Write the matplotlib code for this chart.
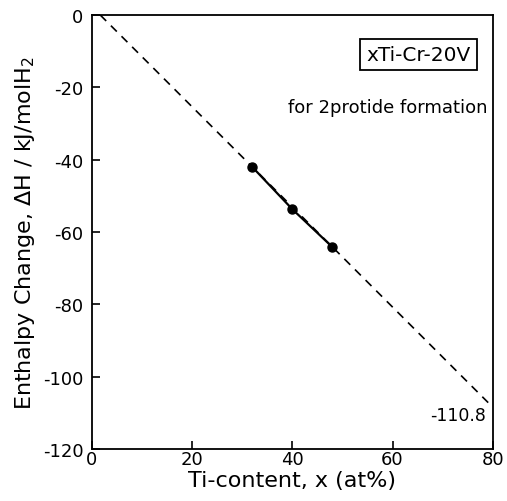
import numpy as np
from matplotlib import pyplot as plt

plt.rcParams['axes.unicode_minus'] = False

# data
ti_content = [32, 40, 48]
enthalpy = [-42, -53.7, -64.2]
# extrapolated trend line (dashed)
trend_x = [1.7, 80]
trend_y = [0, -108.5]
end_label = '-110.8'

fig = plt.figure(figsize=(5.07, 5.02), dpi=100)
ax = fig.add_axes([0.181, 0.104, 0.791, 0.864])

# dashed extrapolation
ax.plot(trend_x, trend_y, color='black', linestyle=(0, (5, 4)), linewidth=1.2)

# measured points
ax.plot(ti_content, enthalpy, color='black', linewidth=1.6,
        marker='o', markersize=6.5)

# annotations
ax.text(65.2, -11, 'xTi-Cr-20V', fontsize=14.5, ha='center', va='center',
        bbox=dict(boxstyle='square,pad=0.3', facecolor='white',
                  edgecolor='black', linewidth=1.3))
ax.text(79, -25.4, 'for 2protide formation', fontsize=13, ha='right', va='center')
ax.text(78.6, -110.6, end_label, fontsize=12.5, ha='right', va='center')

ax.set_xlim(0, 80)
ax.set_ylim(-120, 0)
ax.set_xticks([0, 20, 40, 60, 80])
ax.set_yticks([-120, -100, -80, -60, -40, -20, 0])
ax.tick_params(direction='in', length=6, width=1.2, labelsize=13)
ax.tick_params(axis='x', pad=1)
ax.tick_params(axis='y', pad=6)

for s in ax.spines.values():
    s.set_linewidth(1.3)

ax.set_xlabel('Ti-content, x (at%)', fontsize=16, labelpad=1)
ax.set_ylabel('Enthalpy Change, ΔH / kJ/molH$_2$', fontsize=16, labelpad=4)

plt.savefig('out.png', dpi=100)
